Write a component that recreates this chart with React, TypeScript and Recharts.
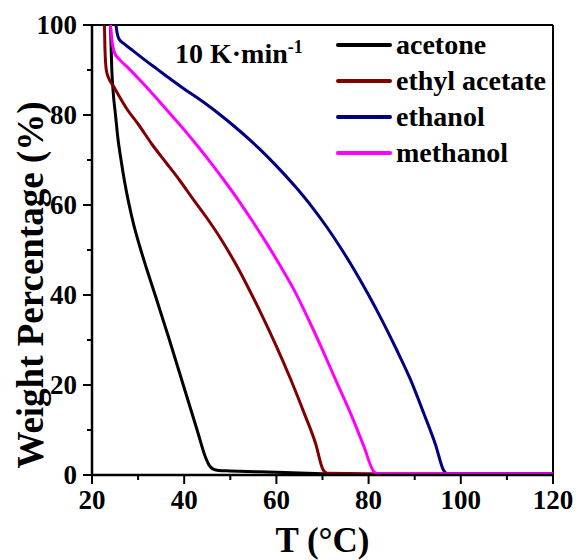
import React from "react";
import {
  LineChart,
  Line,
  XAxis,
  YAxis,
  Legend,
  ReferenceLine,
} from "recharts";

// temperature (°C) / weight (%)
const acetoneT = [24.0, 24.3, 24.6, 25.1, 25.6, 26.3, 27.1, 28.0, 29.0, 30.3, 31.8, 33.7, 36.8, 39.8, 42.8, 44.6, 45.4, 46.3, 47.5, 50, 60, 70, 76, 80, 120];
const acetoneW = [100, 90, 85, 80, 75, 70, 65, 60.3, 55.8, 51, 46, 40, 30, 20, 10, 4, 2.2, 1.3, 1, 0.9, 0.6, 0.3, 0.15, 0.1, 0.1];

const ethylT = [22.7, 22.8, 23.1, 23.7, 24.6, 26, 27.8, 30, 33, 36, 39, 42, 45, 48, 51, 54, 57, 60, 63, 66, 68.5, 70.1, 71, 80, 120];
const ethylW = [100, 95, 90, 88, 86.5, 84, 81, 78, 73.5, 69.5, 65.5, 61.2, 57, 52.4, 47.2, 41.4, 35.2, 28.6, 21.5, 13.8, 7, 1.2, 0.4, 0.3, 0.3];

const ethanolT = [25.2, 25.4, 25.8, 27, 29, 31.5, 34, 37, 40, 44, 48, 52, 56, 60, 64, 68, 71, 74, 77, 80, 83, 86, 89, 92, 94.5, 96.3, 97, 120];
const ethanolW = [100, 98.5, 97, 95.8, 94.2, 92.2, 90.3, 88, 85.8, 83, 79.9, 76.5, 72.8, 68.7, 64.2, 59.2, 55, 50.4, 45.4, 40, 34.2, 28, 21.4, 13.6, 6.8, 1.0, 0.3, 0.3];

const methanolT = [24.0, 24.4, 24.9, 26, 28, 31, 34, 37, 40, 43, 46, 49, 52, 55, 58, 61, 64, 67, 70, 73, 76, 79, 81.1, 82, 120];
const methanolW = [100, 96, 93.8, 92.3, 90.3, 87.1, 83.7, 80.2, 76.7, 73, 69.1, 65, 60.7, 56.1, 51.3, 46.2, 40.8, 34.5, 27.8, 20.8, 13.9, 6.3, 0.8, 0.3, 0.3];

const xTicks = [20, 30, 40, 50, 60, 70, 80, 90, 100, 110, 120];
const yTicks = [0, 10, 20, 30, 40, 50, 60, 70, 80, 90, 100];

const toRows = (t: number[], w: number[]) => t.map((v, i) => ({ t: v, w: w[i] }));

const series = [
  { name: "acetone", color: "#000000", data: toRows(acetoneT, acetoneW) },
  { name: "ethyl acetate", color: "#800000", data: toRows(ethylT, ethylW) },
  { name: "ethanol", color: "#000080", data: toRows(ethanolT, ethanolW) },
  { name: "methanol", color: "#FF00FF", data: toRows(methanolT, methanolW) },
];
const order = series.map((s) => s.name);

const FONT = "'Liberation Serif', 'Times New Roman', serif";

const XTick = (props: any) => {
  const { x, y, payload } = props;
  const major = payload.value % 20 === 0;
  return (
    <g>
      <line x1={x} x2={x} y1={y} y2={y + (major ? 9 : 5)} stroke="#000" strokeWidth={2} />
      {major && (
        <text x={x} y={y + 34} textAnchor="middle" fontFamily={FONT} fontWeight="bold" fontSize={27} fill="#000">
          {payload.value}
        </text>
      )}
    </g>
  );
};

const YTick = (props: any) => {
  const { x, y, payload } = props;
  const major = payload.value % 20 === 0;
  return (
    <g>
      <line x1={x} x2={x - (major ? 9 : 5)} y1={y} y2={y} stroke="#000" strokeWidth={2} />
      {major && (
        <text x={x - 15} y={y + 9} textAnchor="end" fontFamily={FONT} fontWeight="bold" fontSize={27} fill="#000">
          {payload.value}
        </text>
      )}
    </g>
  );
};

const renderLegend = (props: any) => {
  const items = [...props.payload].sort(
    (a: any, b: any) => order.indexOf(a.value) - order.indexOf(b.value)
  );
  return (
    <div style={{ fontFamily: FONT, fontWeight: "bold", fontSize: 28 }}>
      {items.map((entry: any) => (
        <div key={entry.value} style={{ height: 36, display: "flex", alignItems: "center" }}>
          <svg width={60} height={10}>
            <line x1={2} x2={54} y1={5} y2={5} stroke={entry.color} strokeWidth={4} strokeLinecap="round" />
          </svg>
          <span style={{ color: "#000" }}>{entry.value}</span>
        </div>
      ))}
    </div>
  );
};

export default function App() {
  return (
    <div style={{ position: "absolute", left: 0, top: 0, width: 576, height: 560, background: "#fff" }}>
      <LineChart width={576} height={560} margin={{ top: 25, right: 23, left: 0, bottom: 0 }}>
        <XAxis
          type="number"
          dataKey="t"
          domain={[20, 120]}
          ticks={xTicks}
          interval={0}
          allowDataOverflow
          height={85}
          tickSize={0}
          tickMargin={0}
          tick={<XTick />}
          axisLine={{ stroke: "#000", strokeWidth: 2.5 }}
          label={{
            content: (p: any) => (
              <text
                x={p.viewBox.x + p.viewBox.width / 2}
                y={552}
                textAnchor="middle"
                fontFamily={FONT}
                fontWeight="bold"
                fontSize={35}
                fill="#000"
              >
                T (°C)
              </text>
            ),
          }}
        />
        <YAxis
          type="number"
          domain={[0, 100]}
          ticks={yTicks}
          interval={0}
          allowDataOverflow
          width={92}
          tickSize={0}
          tickMargin={0}
          tick={<YTick />}
          axisLine={{ stroke: "#000", strokeWidth: 2.5 }}
          label={{
            content: (p: any) => {
              const cx = 30;
              const cy = p.viewBox.y + p.viewBox.height / 2 + 35;
              return (
                <text
                  x={cx}
                  y={cy}
                  transform={`rotate(-90, ${cx}, ${cy})`}
                  textAnchor="middle"
                  dominantBaseline="central"
                  fontFamily={FONT}
                  fontWeight="bold"
                  fontSize={37}
                  fill="#000"
                >
                  Weight Percentage (%)
                </text>
              );
            },
          }}
        />
        <ReferenceLine y={100} stroke="#000" strokeWidth={2} />
        <ReferenceLine x={120} stroke="#000" strokeWidth={2} />
        {series.map((s) => (
          <Line
            key={s.name}
            name={s.name}
            data={s.data}
            dataKey="w"
            type="monotone"
            stroke={s.color}
            strokeWidth={3}
            dot={false}
            legendType="line"
            isAnimationActive={false}
          />
        ))}
        <Legend
          layout="vertical"
          align="center"
          verticalAlign="middle"
          wrapperStyle={{ top: 27, left: 336, width: 235 }}
          content={renderLegend}
        />
      </LineChart>
      <div
        style={{
          position: "absolute",
          left: 175,
          top: 37,
          fontFamily: FONT,
          fontWeight: "bold",
          fontSize: 28,
          color: "#000",
          whiteSpace: "nowrap",
        }}
      >
        10 K·min<sup style={{ fontSize: 18 }}>-1</sup>
      </div>
    </div>
  );
}
